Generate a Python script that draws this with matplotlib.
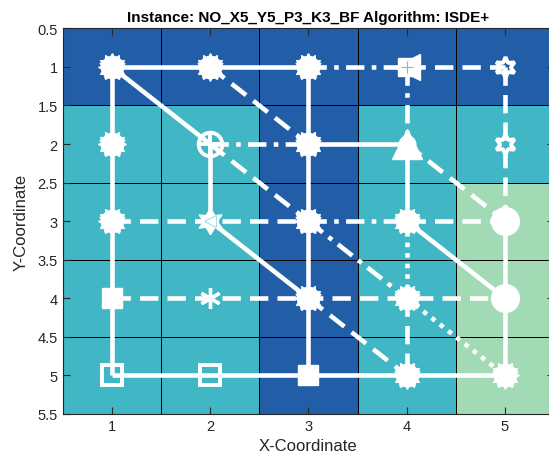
import numpy as np
import matplotlib
matplotlib.use("Agg")
import matplotlib.pyplot as plt
from matplotlib.colors import ListedColormap

plt.rcParams['font.family'] = ['Liberation Sans', 'DejaVu Sans']

# cell classes, rows are y = 1..5, columns x = 1..5
cell_class = np.array([
    [0, 0, 0, 0, 0],
    [1, 1, 0, 1, 1],
    [1, 1, 0, 1, 2],
    [1, 1, 0, 1, 2],
    [1, 1, 0, 1, 2],
])
cell_colors = ['#225ea8', '#41b6c4', '#a1dab4']

# route segments (x0, y0, x1, y1)
solid_segs = [(1, 1, 3, 1), (1, 1, 1, 5), (1, 5, 5, 5), (1, 1, 2, 2), (2, 2, 2, 3),
              (2, 3, 3, 4), (3, 1, 3, 5), (3, 2, 4, 2), (4, 2, 4, 3), (4, 3, 5, 4),
              (5, 3, 5, 5)]
dashed_segs = [(4, 1, 5, 1), (5, 1, 5, 3), (2, 1, 3, 2), (2, 2, 3, 3), (4, 2, 5, 3),
               (1, 3, 3, 3), (4, 3, 5, 3), (1, 4, 5, 4), (3, 4, 4, 5), (4, 4, 4, 5)]
dashdot_segs = [(3, 1, 4, 1), (4, 1, 4, 2), (2, 2, 3, 2), (3, 3, 4, 3), (3, 3, 4, 4)]
dotted_segs = [(4, 3, 4, 4), (4, 4, 5, 5)]

# node markers
blob_nodes = [(1, 1), (2, 1), (3, 1), (1, 2), (3, 2), (1, 3), (3, 3), (4, 3),
              (3, 4), (4, 4), (4, 5), (5, 5)]
hexagram_nodes = [(5, 1), (5, 2)]
open_square_nodes = [(1, 5), (2, 5)]
filled_square_nodes = [(3, 5), (1, 4)]
circle_nodes = [(5, 3), (5, 4)]

fig = plt.figure(figsize=(5.49, 4.64), dpi=100)
ax = fig.add_axes([62.6 / 549, 49 / 464, 491.5 / 549, 385.7 / 464])

xe = np.arange(0.5, 6.0, 1.0)
ax.pcolormesh(xe, xe, cell_class, cmap=ListedColormap(cell_colors), vmin=-0.5, vmax=2.5,
              edgecolors='#000000', linewidth=0.55, zorder=0)

lw = 3.3
styles = [(solid_segs, '-'), (dashed_segs, (0, (4, 2))),
          (dashdot_segs, (0, (4, 1.6, 1, 1.6))), (dotted_segs, (0, (1, 1.3)))]
for segs, ls in styles:
    for x0, y0, x1, y1 in segs:
        ax.plot([x0, x1], [y0, y1], color='white', lw=lw, linestyle=ls,
                solid_capstyle='butt', dash_capstyle='butt', zorder=2)

def put(nodes, **kw):
    xs = [n[0] for n in nodes]
    ys = [n[1] for n in nodes]
    ax.plot(xs, ys, linestyle='none', zorder=3, **kw)

# overlapped markers (many vehicles on one node)
for m, s in [((6, 1, 0), 20), ((6, 1, 30), 20), ((5, 1, 0), 19), ('o', 16)]:
    put(blob_nodes, marker=m, markersize=s, color='white', mec='white')

put(hexagram_nodes, marker=(6, 1, 0), markersize=15, mfc='none', mec='white', mew=2.8)
put(open_square_nodes, marker='s', markersize=14, mfc='none', mec='white', mew=2.8)
put(filled_square_nodes, marker='s', markersize=15, color='white')
put(circle_nodes, marker='o', markersize=20, color='white')
put([(5, 4)], marker=(6, 1, 0), markersize=18, color='white')

# (2,2): circle with plus
put([(2, 2)], marker='o', markersize=17, mfc='none', mec='white', mew=2.8)
put([(2, 2)], marker='+', markersize=17, mec='white', mew=2.8)
# (2,3): diamond + triangle
put([(2, 3)], marker=(6, 1, 0), markersize=19, color='white')
put([(2, 3)], marker='d', markersize=13, color='white')
put([(2, 3)], marker='<', markersize=9, mfc='none', mec='#9fdbe2', mew=0.7)
# (2,4): asterisk
put([(2, 4)], marker=(6, 2, 0), markersize=15, mec='white', mew=2.4)
# (4,1): left triangle with plus
put([(4, 1)], marker='<', markersize=19, color='white')
put([(4, 1)], marker='s', markersize=13, color='white')
put([(4, 1)], marker='+', markersize=9, mec='#8fb0d8', mew=0.8)
# (4,2): triangle up
put([(4, 2)], marker='^', markersize=21, color='white')
put([(4, 2)], marker='o', markersize=12, color='white')

ax.set_xlim(0.5, 5.5)
ax.set_ylim(5.5, 0.5)
ax.set_xticks([1, 2, 3, 4, 5])
ax.set_yticks(np.arange(0.5, 5.51, 0.5))
ax.set_yticklabels(['0.5', '1', '1.5', '2', '2.5', '3', '3.5', '4', '4.5', '5', '5.5'])
ax.tick_params(direction='in', length=5, width=0.8, top=True, right=True,
               labelsize=10.5, colors='#262626')
for sp in ax.spines.values():
    sp.set_color('#262626')
    sp.set_linewidth(0.8)

ax.set_xlabel('X-Coordinate', fontsize=12, color='#262626', labelpad=4)
ax.set_ylabel('Y-Coordinate', fontsize=12, color='#262626', labelpad=6)
ax.set_title('Instance: NO_X5_Y5_P3_K3_BF Algorithm: ISDE+', fontsize=11,
             fontweight='bold', pad=5)

fig.savefig('out.png', dpi=100)
